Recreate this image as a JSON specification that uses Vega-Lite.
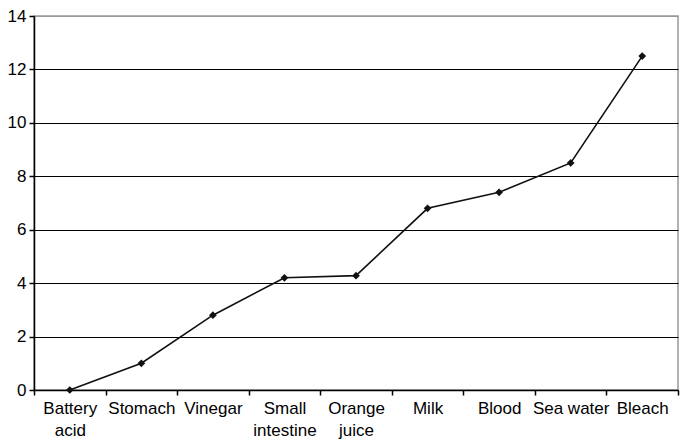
{
  "$schema": "https://vega.github.io/schema/vega-lite/v6.json",
  "width": 644,
  "height": 374,
  "autosize": {"type": "none"},
  "padding": {"left": 34, "top": 16, "right": 4, "bottom": 51},
  "background": "white",
  "config": {
    "view": {"stroke": "#999999", "strokeWidth": 1.5},
    "font": "Liberation Sans"
  },
  "data": {
    "values": [
      {"substance": "Battery acid", "pH": 0},
      {"substance": "Stomach", "pH": 1},
      {"substance": "Vinegar", "pH": 2.8},
      {"substance": "Small intestine", "pH": 4.2},
      {"substance": "Orange juice", "pH": 4.28},
      {"substance": "Milk", "pH": 6.8},
      {"substance": "Blood", "pH": 7.4},
      {"substance": "Sea water", "pH": 8.5},
      {"substance": "Bleach", "pH": 12.5}
    ]
  },
  "encoding": {
    "x": {
      "field": "substance",
      "type": "nominal",
      "sort": null,
      "title": null,
      "scale": {"paddingInner": 0, "paddingOuter": 0},
      "axis": {
        "labelAngle": 0,
        "labelFontSize": 17,
        "labelColor": "black",
        "labelPadding": 5,
        "labelLineHeight": 22,
        "labelExpr": "datum.label == 'Battery acid' ? ['Battery','acid'] : datum.label == 'Small intestine' ? ['Small','intestine'] : datum.label == 'Orange juice' ? ['Orange','juice'] : datum.label",
        "domainColor": "black",
        "domainWidth": 1.5,
        "tickColor": "black",
        "tickWidth": 1.5,
        "tickSize": 5,
        "tickBand": "extent",
        "grid": false
      }
    },
    "y": {
      "field": "pH",
      "type": "quantitative",
      "title": null,
      "scale": {"domain": [0, 14], "nice": false},
      "axis": {
        "values": [0, 2, 4, 6, 8, 10, 12, 14],
        "labelFontSize": 17,
        "labelColor": "black",
        "labelPadding": 3,
        "domainColor": "black",
        "domainWidth": 1.5,
        "tickColor": "black",
        "tickWidth": 1.5,
        "tickSize": 5,
        "grid": true,
        "gridColor": {"condition": {"test": "datum.value == 14", "value": "#999999"}, "value": "black"},
        "gridWidth": 1.2,
        "gridOpacity": 1
      }
    }
  },
  "layer": [
    {"mark": {"type": "line", "color": "#111111", "strokeWidth": 1.6}},
    {"mark": {"type": "point", "shape": "diamond", "filled": true, "color": "#111111", "size": 60, "opacity": 1}}
  ]
}
